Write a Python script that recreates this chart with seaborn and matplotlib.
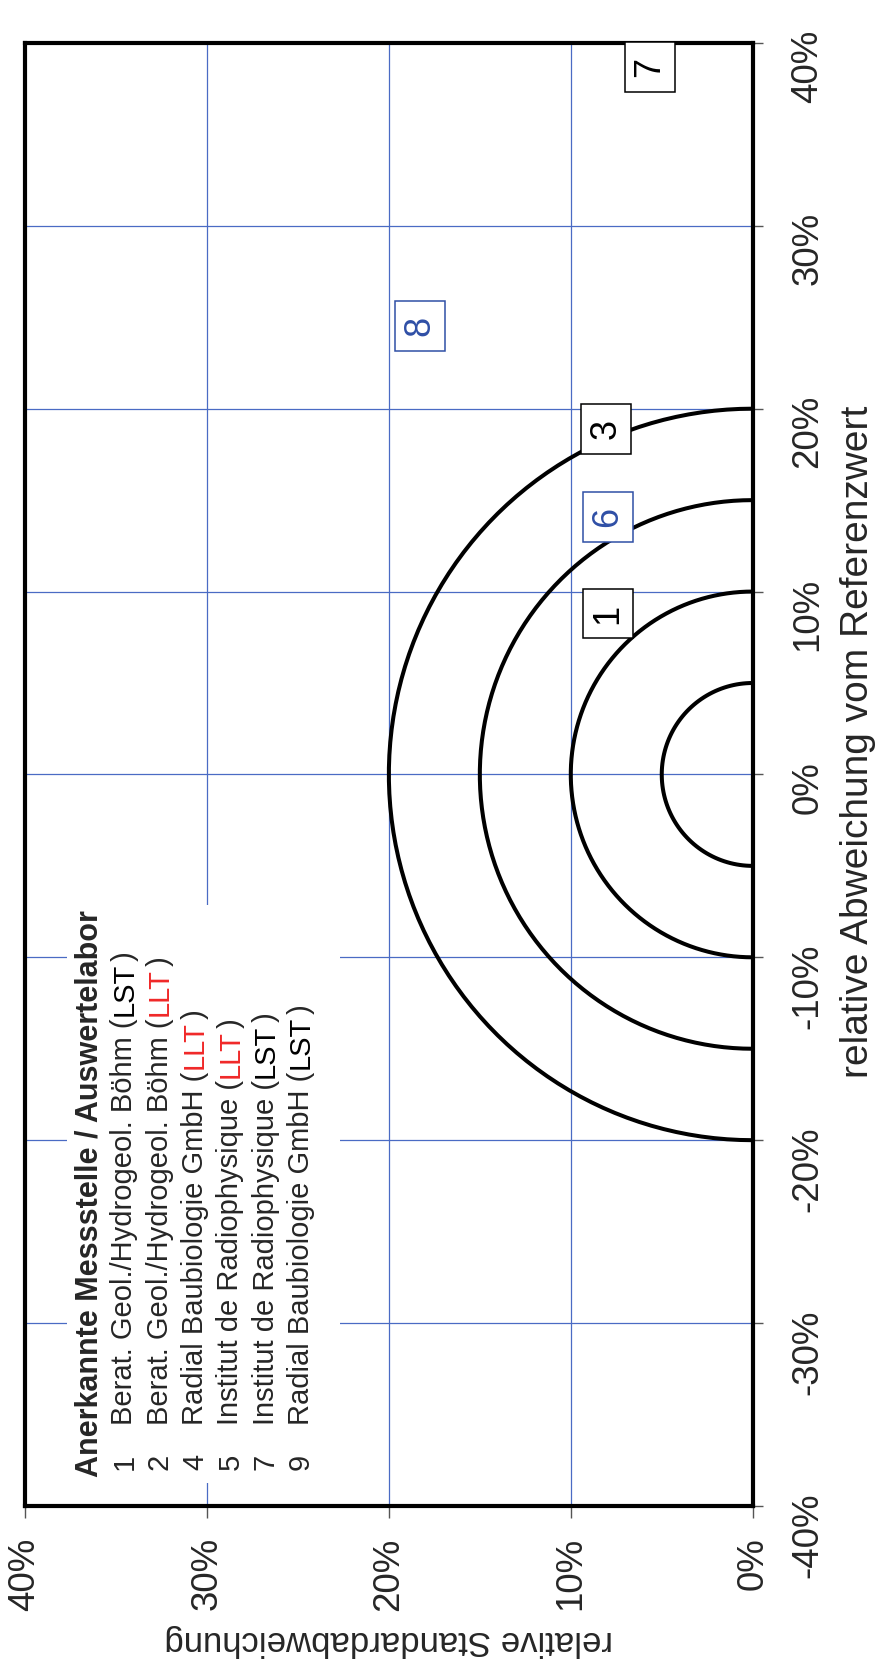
import numpy as np
import pandas as pd
import seaborn as sns
import matplotlib.pyplot as plt
from matplotlib.patches import Rectangle

# reference circles (relative deviation radius, %)
circle_radii = [5, 10, 15, 20]

# data labels: lab number, rel. std dev (%), rel. deviation (%)
label_names = ['1', '3', '6', '7', '8']
label_std = [7.95, 8.05, 7.95, 5.65, 18.3]
label_dev = [8.8, 18.9, 14.1, 38.7, 24.5]
label_colors = ['black', 'black', '#2f4fa6', 'black', '#2f4fa6']

# axes ticks
std_ticks = [0, 10, 20, 30, 40]
std_ticklabels = ['0%', '10%', '20%', '30%', '40%']
dev_ticks = [-40, -30, -20, -10, 0, 10, 20, 30, 40]
dev_ticklabels = ['-40%', '-30%', '-20%', '-10%', '0%', '10%', '20%', '30%', '40%']

# legend text
legend_title = 'Anerkannte Messstelle / Auswertelabor'
legend_nums = ['1', '2', '4', '5', '7', '9']
legend_labs = ['Berat. Geol./Hydrogeol. Böhm', 'Berat. Geol./Hydrogeol. Böhm',
               'Radial Baubiologie GmbH', 'Institut de Radiophysique',
               'Institut de Radiophysique', 'Radial Baubiologie GmbH']
legend_method = ['LST', 'LLT', 'LLT', 'LLT', 'LST', 'LST']

sns.set_style('white')
plt.rcParams['font.family'] = ['Liberation Sans', 'DejaVu Sans']

fig = plt.figure(figsize=(8.89, 16.77), dpi=100)
ax = fig.add_axes([0.0281, 0.1020, 0.8186, 0.8724])

# semicircles, drawn in the rotated frame (x = std dev, y = deviation)
theta = np.linspace(0, np.pi, 90)
rows = []
for r in circle_radii:
    for t in theta:
        rows.append({'r': r, 'std': r * np.sin(t), 'dev': r * np.cos(t)})
df = pd.DataFrame(rows)
sns.lineplot(data=df, x='std', y='dev', units='r', estimator=None, sort=False,
             color='black', lw=2.9, ax=ax, zorder=3)

ax.set_xlim(40, 0)
ax.set_ylim(-40, 40)
ax.set_xticks(std_ticks)
ax.set_xticklabels(std_ticklabels)
ax.set_yticks(dev_ticks)
ax.set_yticklabels(dev_ticklabels)
ax.grid(True, color='#4a6bc4', lw=0.9)
ax.set_axisbelow(True)

for s in ax.spines.values():
    s.set_visible(True)
    s.set_color('black')
    s.set_linewidth(3)

ax.tick_params(axis='x', bottom=True, direction='out', length=8.6, width=1,
               color='#555555', labelsize=26.5, labelrotation=90, pad=14)
ax.yaxis.tick_right()
ax.tick_params(axis='y', left=False, right=True, labelleft=False, labelright=True,
               direction='out', length=7.2, width=1, color='#555555',
               labelsize=26.5, labelrotation=90, pad=20)

ax.set_xlabel('relative Standardabweichung', fontsize=25, rotation=180)
ax.xaxis.set_label_coords(0.5, -0.0807)
ax.yaxis.set_label_position('right')
ax.set_ylabel('relative Abweichung vom Referenzwert', fontsize=28, rotation=90)
ax.yaxis.set_label_coords(1.12, 0.522)

# data label boxes
bw, bh = 2.75, 2.73
for name, xs, yd, c in zip(label_names, label_std, label_dev, label_colors):
    ax.add_patch(Rectangle((xs - bw / 2, yd - bh / 2), bw, bh, facecolor='white',
                           edgecolor=c, lw=1.1, zorder=4, clip_on=False))
    ax.text(xs, yd, name, color=c, fontsize=26, rotation=90, ha='center',
            va='center', zorder=5)

# legend text box
ax.add_patch(Rectangle((0.0577, 0.0157), 0.3752, 0.3951, transform=ax.transAxes,
                       facecolor='white', edgecolor='none', zorder=1))
fs = 21
x0 = (98 - 25) / 727.7
ax.text(x0, 0.0198, legend_title, transform=ax.transAxes, fontsize=22,
        fontweight='bold', rotation=90, rotation_mode='anchor', ha='left',
        va='baseline', zorder=5)
for i, (num, lab, meth) in enumerate(zip(legend_nums, legend_labs, legend_method)):
    xb = (132.5 + 35.3 * i - 25) / 727.7
    ax.text(xb, 0.0246, num, transform=ax.transAxes, fontsize=fs, rotation=90,
            rotation_mode='anchor', ha='left', va='baseline', zorder=5)
    t1 = ax.text(xb, 0.0554, lab + ' (', transform=ax.transAxes, fontsize=fs,
                 rotation=90, rotation_mode='anchor', ha='left', va='baseline', zorder=5)
    t2 = ax.annotate(meth, xy=(0.5, 1), xycoords=t1, xytext=(0, 1.5),
                     textcoords='offset points', fontsize=fs, rotation=90,
                     ha='center', va='bottom', zorder=5,
                     color='#f02828' if meth == 'LLT' else 'black')
    ax.annotate(')', xy=(0.5, 1), xycoords=t2, xytext=(0, 1.5),
                textcoords='offset points', fontsize=fs, rotation=90,
                ha='center', va='bottom', zorder=5)

fig.savefig('out.png', dpi=100)
